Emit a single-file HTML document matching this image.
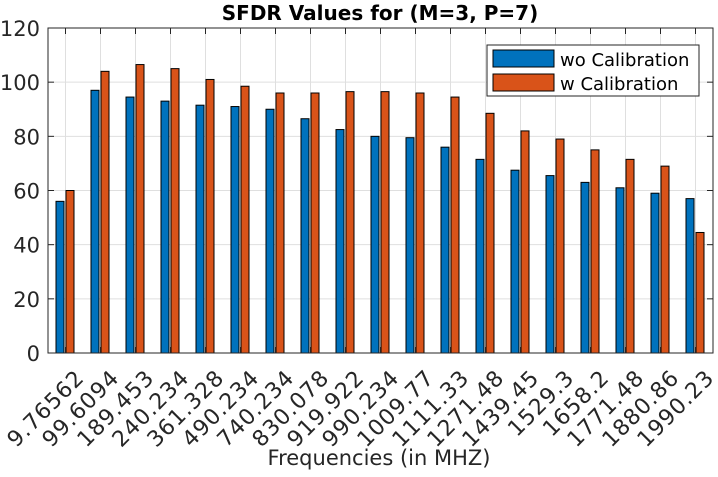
<!DOCTYPE html>
<html><head><meta charset="utf-8"><style>
body{margin:0;background:#fff;}
svg{font-family:"DejaVu Sans","Liberation Sans",sans-serif;}
</style></head><body>
<svg id="c" width="718" height="472"></svg>
<script>
const categories=["9.76562","99.6094","189.453","240.234","361.328","490.234","740.234","830.078","919.922","990.234","1009.77","1111.33","1271.48","1439.45","1529.3","1658.2","1771.48","1880.86","1990.23"];
const woValues=[56,97,94.5,93,91.5,91,90,86.5,82.5,80,79.5,76,71.5,67.5,65.5,63,61,59,57];
const wValues=[60,104,106.5,105,101,98.5,96,96,96.5,96.5,96,94.5,88.5,82,79,75,71.5,69,44.5];
const yTicks=[0,20,40,60,80,100,120];
const L=48,R=713,T=28,B=353,yMax=120;
const NS="http://www.w3.org/2000/svg";
const svg=document.getElementById('c');
function xc(i){return L+(R-L)/categories.length*(i+0.5);}
function y(v){return B-(B-T)*v/yMax;}
function mk(t,a,p){const e=document.createElementNS(NS,t);for(const k in a)e.setAttribute(k,a[k]);(p||svg).appendChild(e);return e;}
yTicks.forEach(v=>{const g=mk('line',{x1:L,x2:R,y1:y(v),y2:y(v),stroke:'#dfdfdf'});

});
categories.forEach((c,i)=>{const g=mk('line',{x1:xc(i),x2:xc(i),y1:T,y2:B,stroke:'#dfdfdf'});

});
const bw=8;
categories.forEach((c,i)=>{
 const b1=mk('rect',{x:xc(i)-9.5,y:y(woValues[i]),width:bw,height:B-y(woValues[i]),fill:'#0072bd',stroke:'#000','stroke-width':1});
 
 
 const b2=mk('rect',{x:xc(i)+0.5,y:y(wValues[i]),width:bw,height:B-y(wValues[i]),fill:'#d95319',stroke:'#000','stroke-width':1});
 
 
});
const ax=mk('rect',{x:L,y:T,width:R-L,height:B-T,fill:'none',stroke:'#262626','stroke-width':1});


yTicks.forEach(v=>{
 mk('line',{x1:L,x2:L+6,y1:y(v),y2:y(v),stroke:'#262626'});
 mk('line',{x1:R,x2:R-6,y1:y(v),y2:y(v),stroke:'#262626'});
 const t=mk('text',{x:L-8,y:y(v)+8,'text-anchor':'end','font-size':21,fill:'#262626'});
 t.textContent=v;
 
 
});
categories.forEach((c,i)=>{
 mk('line',{x1:xc(i),x2:xc(i),y1:B,y2:B-6,stroke:'#262626'});
 mk('line',{x1:xc(i),x2:xc(i),y1:T,y2:T+6,stroke:'#262626'});
 const ax0=xc(i)+20, ay0=B+26;
 const t=mk('text',{x:ax0,y:ay0,'text-anchor':'end','font-size':22,'letter-spacing':1,fill:'#262626',transform:`rotate(-45 ${ax0} ${ay0})`});
 t.textContent=c;
 
 
});
</script>
<svg width="718" height="472" style="position:absolute;left:0;top:0">
<text x="380" y="20" text-anchor="middle" font-size="20" font-weight="bold" fill="#000" font-family="DejaVu Sans,sans-serif">SFDR Values for (M=3, P=7)</text>
<text x="379" y="465" text-anchor="middle" font-size="21" fill="#262626" font-family="DejaVu Sans,sans-serif">Frequencies (in MHZ)</text>
<g>
<rect x="487" y="45" width="212" height="51" fill="#fff" stroke="#262626"/>
<rect x="493" y="50" width="61" height="17" fill="#0072bd" stroke="#000"/>
<text x="560" y="66" font-size="18" fill="#000" font-family="DejaVu Sans,sans-serif">wo Calibration</text>
<rect x="493" y="74" width="61" height="17" fill="#d95319" stroke="#000"/>
<text x="560" y="90" font-size="18" fill="#000" font-family="DejaVu Sans,sans-serif">w Calibration</text>
</g>
</svg>
</body></html>
